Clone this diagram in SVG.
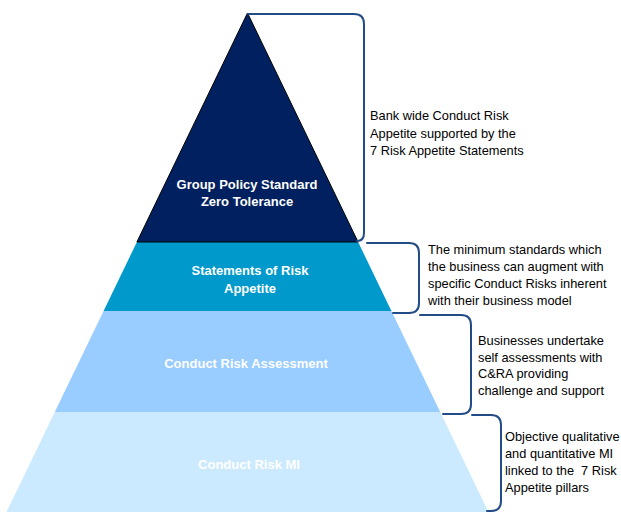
<svg xmlns="http://www.w3.org/2000/svg" width="621" height="512" viewBox="0 0 621 512">
<style>
.lbl{font-family:"Liberation Sans",Arial,sans-serif;font-weight:bold;font-size:13px;fill:#ffffff;text-anchor:middle}
.note{font-family:"Liberation Sans",Arial,sans-serif;font-size:12.8px;fill:#000000;white-space:pre}
.br{fill:none;stroke:#234b86;stroke-width:2;stroke-linecap:round;stroke-linejoin:round}
</style>
<rect width="621" height="512" fill="#ffffff"/>
<g id="layer-mi">
<polygon points="54.8,412 440.2,412 488.5,512 6.5,512" fill="#cceaff"/>
<text class="lbl" x="249" y="469">Conduct Risk MI</text>
</g>
<g id="layer-assessment">
<polygon points="103.6,311 391.4,311 440.2,412 54.8,412" fill="#99ccff"/>
<text class="lbl" x="246" y="368">Conduct Risk Assessment</text>
</g>
<g id="layer-statements">
<polygon points="136.9,242 358.1,242 391.4,311 103.6,311" fill="#0099cc"/>
<text class="lbl" x="250" y="275">Statements of Risk</text>
<text class="lbl" x="250" y="293">Appetite</text>
</g>
<g id="layer-policy">
<polygon points="247.5,13 358.1,242 136.9,242" fill="#002060" stroke="#000000" stroke-width="1"/>
<text class="lbl" x="247" y="189">Group Policy Standard</text>
<text class="lbl" x="247" y="206">Zero Tolerance</text>
</g>
<g id="connectors">
<path class="br" d="M248,14 H354 Q364,14 364,24 V233 Q364,241 357,241"/>
<path class="br" d="M367,243 H409 Q419,243 419,253 V303 Q419,313 409,313 H393"/>
<path class="br" d="M420,315 H461 Q471,315 471,325 V404 Q471,414 461,414 H443"/>
<path class="br" d="M472,415 H491 Q501,415 501,425 V501 Q501,511 491,511 H487"/>
</g>
<g id="note-1">
<text class="note" x="370" y="120">Bank wide Conduct Risk</text>
<text class="note" x="370" y="137.5">Appetite supported by the</text>
<text class="note" x="370" y="155">7 Risk Appetite Statements</text>
</g>
<g id="note-2">
<text class="note" x="428" y="254">The minimum standards which</text>
<text class="note" x="428" y="271">the business can augment with</text>
<text class="note" x="428" y="288">specific Conduct Risks inherent</text>
<text class="note" x="428" y="305">with their business model</text>
</g>
<g id="note-3">
<text class="note" x="478" y="345">Businesses undertake</text>
<text class="note" x="478" y="362">self assessments with</text>
<text class="note" x="478" y="378">C&amp;RA providing</text>
<text class="note" x="478" y="395">challenge and support</text>
</g>
<g id="note-4">
<text class="note" x="505" y="441">Objective qualitative</text>
<text class="note" x="505" y="458">and quantitative MI</text>
<text class="note" x="505" y="475" xml:space="preserve">linked to the  7 Risk</text>
<text class="note" x="505" y="492">Appetite pillars</text>
</g>
</svg>
